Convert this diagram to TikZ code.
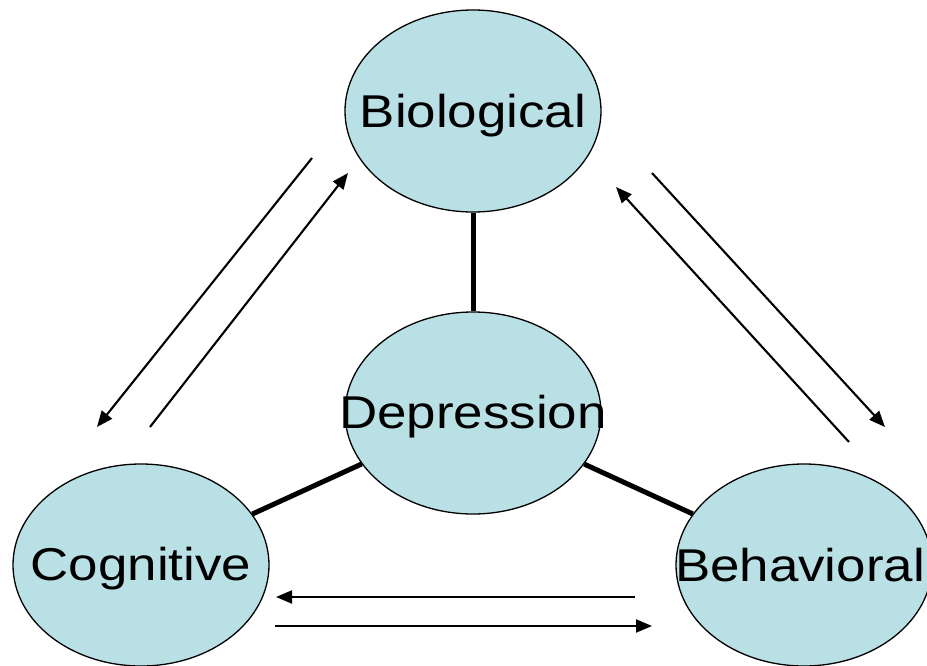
\documentclass[tikz,border=0pt]{standalone}
\usepackage{fontspec}
\setmainfont{Liberation Sans}
\newfontfamily\lblfont[FakeStretch=1.15]{Liberation Sans}
\usetikzlibrary{shapes.geometric,arrows.meta}
\definecolor{blobfill}{RGB}{185,224,228}
\tikzset{
  blob/.style={ellipse, draw=black, line width=1.3pt, fill=blobfill,
    minimum width=256pt, minimum height=202pt, inner sep=0pt},
  lbl/.style={inner sep=0pt, anchor=base, font=\lblfont\fontsize{46}{52}\selectfont},
  thick link/.style={line width=5pt},
  arr/.style={line width=2.1pt, -{Triangle[length=16pt,width=13pt]}}
}
\begin{document}
\begin{tikzpicture}[x=1pt,y=-1pt]
\useasboundingbox (0,0) rectangle (927,665);
\clip (0,0) rectangle (927,665);
% nodes
\node[blob] (bio) at (473,111) {};
\node[blob] (dep) at (473,413) {};
\node[blob] (cog) at (141,565) {};
\node[blob] (beh) at (804,565) {};
% thick links
\draw[thick link] (bio) -- (dep);
\draw[thick link] (dep) -- (cog);
\draw[thick link] (dep) -- (beh);
% labels
\node[lbl] (biot) at ([yshift=-16pt]bio.center) {Biological};
\node[lbl] (dept) at ([yshift=-15pt]dep.center) {Depression};
\node[lbl] (cogt) at ([yshift=-15pt]cog.center) {Cognitive};
\node[lbl] (beht) at ([xshift=-4pt,yshift=-16pt]beh.center) {Behavioral};
% arrow end points
\coordinate (l1s) at (312,158); \coordinate (l1e) at (97,427);
\coordinate (l2s) at (150,427); \coordinate (l2e) at (348,173);
\coordinate (r1s) at (652,173); \coordinate (r1e) at (885,427);
\coordinate (r2s) at (849,442); \coordinate (r2e) at (616,187);
\coordinate (b1s) at (635,597); \coordinate (b1e) at (276,597);
\coordinate (b2s) at (275,626); \coordinate (b2e) at (652,626);
\draw[arr] (l1s) -- (l1e);
\draw[arr] (l2s) -- (l2e);
\draw[arr] (r1s) -- (r1e);
\draw[arr] (r2s) -- (r2e);
\draw[arr] (b1s) -- (b1e);
\draw[arr] (b2s) -- (b2e);
\end{tikzpicture}
\end{document}
